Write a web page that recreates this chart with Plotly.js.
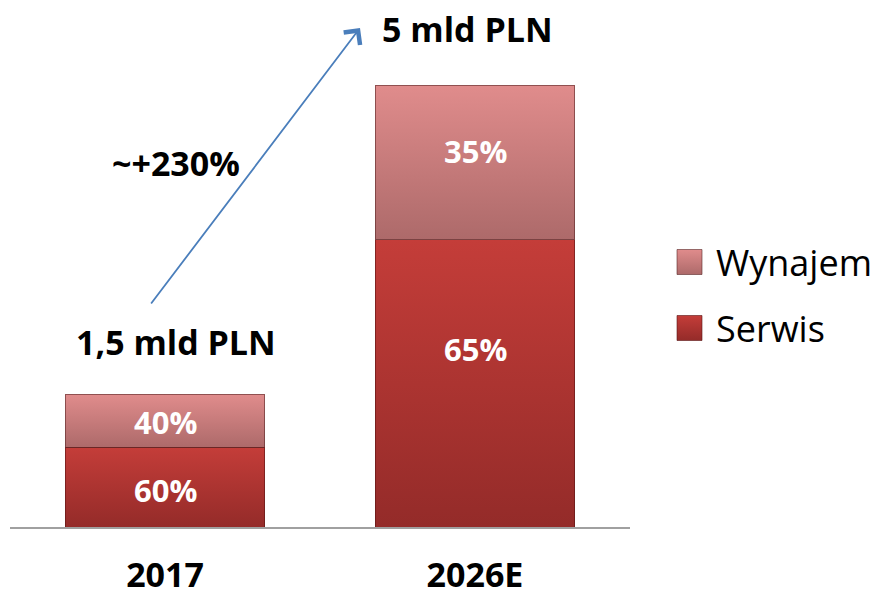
<!DOCTYPE html>
<html>
<head>
<meta charset="utf-8">
<script src="https://cdn.plot.ly/plotly-3.0.1.min.js"></script>
<style>html,body{margin:0;padding:0;background:#fff;}#chart{width:879px;height:598px;}</style>
</head>
<body>
<div id="chart"></div>
<script>
// ---- data ----
const categories = ['2017', '2026E'];
const totals = [1.5, 5];                 // mld PLN
const totalLabels = ['1,5 mld PLN', '5 mld PLN'];
const serwisShare = [60, 65];            // %
const wynajemShare = [40, 35];           // %
const seriesNames = ['Serwis', 'Wynajem'];
const growthLabel = '~+230%';

// ---- derived ----
const serwisVals = totals.map((t, i) => t * serwisShare[i] / 100);
const wynajemVals = totals.map((t, i) => t * wynajemShare[i] / 100);

const colSerwis = '#b53733';
const colWynajem = '#c97d7d';
const FONT = 'Open Sans, Noto Sans, sans-serif';

const L = 10, R = 249, T = 41, B = 71, W = 879, H = 598;
const pw = W - L - R, ph = H - T - B;
const px = x => (x - L) / pw;
const py = y => (H - B - y) / ph;

const traces = [
  {
    type: 'bar', name: seriesNames[0], x: categories, y: serwisVals,
    marker: {color: colSerwis, line: {color: 'rgba(90,20,20,0.6)', width: 1}},
    hoverinfo: 'none', showlegend: false
  },
  {
    type: 'bar', name: seriesNames[1], x: categories, y: wynajemVals,
    marker: {color: colWynajem, line: {color: 'rgba(90,40,40,0.6)', width: 1}},
    hoverinfo: 'none', showlegend: false
  }
];

const labelFont = {family: FONT, size: 31, color: '#ffffff', weight: 'bold'};
const bigFont = {family: FONT, size: 34, color: '#000'};
const segShift = {serwis: [-3, 34], wynajem: [-1, 12]};

const annotations = [];
categories.forEach((c, i) => {
  annotations.push({x: i, y: serwisVals[i] / 2, xref: 'x', yref: 'y', text: '<b>' + serwisShare[i] + '%</b>',
    showarrow: false, xanchor: 'center', yanchor: 'middle', yshift: segShift.serwis[i], font: labelFont});
  annotations.push({x: i, y: serwisVals[i] + wynajemVals[i] / 2, xref: 'x', yref: 'y', text: '<b>' + wynajemShare[i] + '%</b>',
    showarrow: false, xanchor: 'center', yanchor: 'middle', yshift: segShift.wynajem[i], font: labelFont});
});
annotations.push(
  {x: 0, y: totals[0], xref: 'x', yref: 'y', text: '<b>' + totalLabels[0] + '</b>',
   showarrow: false, xanchor: 'center', yanchor: 'bottom', xshift: 11, yshift: 27, font: bigFont},
  {x: 1, y: totals[1], xref: 'x', yref: 'y', text: '<b>' + totalLabels[1] + '</b>',
   showarrow: false, xanchor: 'center', yanchor: 'bottom', xshift: -8, yshift: 31, font: bigFont},
  {x: px(360), y: py(28), xref: 'paper', yref: 'paper', ax: -210, ay: 277, text: '',
   showarrow: true, arrowhead: 4, arrowsize: 2.2, arrowwidth: 1.8, arrowcolor: '#4a7ebb'},
  {x: px(176), y: py(163), xref: 'paper', yref: 'paper', text: '<b>' + growthLabel + '</b>',
   showarrow: false, xanchor: 'center', yanchor: 'middle', font: bigFont},
  {x: px(714), y: py(262), xref: 'paper', yref: 'paper', text: seriesNames[1], xanchor: 'left', yanchor: 'middle',
   showarrow: false, font: {family: FONT, size: 36, color: '#000'}},
  {x: px(714), y: py(328), xref: 'paper', yref: 'paper', text: seriesNames[0], xanchor: 'left', yanchor: 'middle',
   showarrow: false, font: {family: FONT, size: 36, color: '#000'}}
);

const shapes = [
  {type: 'rect', xref: 'paper', yref: 'paper', x0: px(677), x1: px(702), y0: py(274.5), y1: py(249.5),
   fillcolor: colWynajem, line: {color: 'rgba(90,40,40,0.6)', width: 1}},
  {type: 'rect', xref: 'paper', yref: 'paper', x0: px(677), x1: px(702), y0: py(340.5), y1: py(315.5),
   fillcolor: colSerwis, line: {color: 'rgba(90,20,20,0.6)', width: 1}}
];

const layout = {
  width: W, height: H,
  margin: {l: L, r: R, t: T, b: B, pad: 0},
  paper_bgcolor: '#ffffff', plot_bgcolor: '#ffffff',
  barmode: 'stack', bargap: 0.355,
  showlegend: false,
  font: {family: FONT, color: '#000'},
  xaxis: {
    type: 'category', range: [-0.5, 1.5], showline: true, linecolor: '#a0a0a0', linewidth: 1.5,
    ticks: '', showgrid: false, zeroline: false, fixedrange: true,
    tickfont: {family: FONT, size: 34, color: '#000', weight: 'bold'}, ticklabelstandoff: 18
  },
  yaxis: {range: [0, 5.5], visible: false, showgrid: false, zeroline: false, fixedrange: true},
  annotations: annotations,
  shapes: shapes
};

Plotly.newPlot('chart', traces, layout, {displayModeBar: false, staticPlot: true}).then(gd => {
  try {
    const svg = gd.querySelector('svg.main-svg');
    const ns = 'http://www.w3.org/2000/svg';
    let defs = svg.querySelector('defs');
    if (!defs) { defs = document.createElementNS(ns, 'defs'); svg.insertBefore(defs, svg.firstChild); }
    const mk = (id, top, bot) => {
      const g = document.createElementNS(ns, 'linearGradient');
      g.setAttribute('id', id); g.setAttribute('x1', '0'); g.setAttribute('y1', '0');
      g.setAttribute('x2', '0'); g.setAttribute('y2', '1');
      [[0, top], [1, bot]].forEach(([o, c]) => {
        const s = document.createElementNS(ns, 'stop');
        s.setAttribute('offset', o); s.setAttribute('stop-color', c); g.appendChild(s);
      });
      defs.appendChild(g);
    };
    mk('gSerwis', '#c43d39', '#942b29');
    mk('gWynajem', '#e08c8c', '#ad6a6a');
    const traceGroups = gd.querySelectorAll('g.trace.bars');
    const ids = ['gSerwis', 'gWynajem'];
    traceGroups.forEach((tg, i) => {
      tg.querySelectorAll('path').forEach(p => { p.style.fill = 'url(#' + ids[i] + ')'; });
    });
    const sh = gd.querySelectorAll('g.layer-above path, g.shapelayer path');
    sh.forEach((p, i) => { if (i < 2) p.style.fill = 'url(#' + (i === 0 ? 'gWynajem' : 'gSerwis') + ')'; });
  } catch (e) {}
});
</script>
</body>
</html>
